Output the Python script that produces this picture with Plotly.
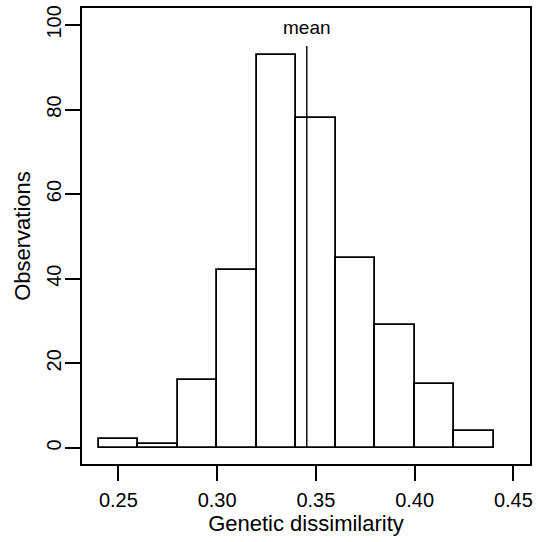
import plotly.graph_objects as go

# Histogram data
bin_edges = [0.24, 0.26, 0.28, 0.30, 0.32, 0.34, 0.36, 0.38, 0.40, 0.42, 0.44]
counts = [2, 1, 16, 42, 93, 78, 45, 29, 15, 4]
mean_value = 0.3454
mean_line_top = 95
mean_label_y = 99.5
mean_label = "mean"

x_tick_vals = [0.25, 0.30, 0.35, 0.40, 0.45]
x_tick_text = ["0.25", "0.30", "0.35", "0.40", "0.45"]
y_tick_vals = [0, 20, 40, 60, 80, 100]
y_tick_text = ["0", "20", "40", "60", "80", "100"]

x_title = "Genetic dissimilarity"
y_title = "Observations"

centers = [(a + b) / 2 for a, b in zip(bin_edges[:-1], bin_edges[1:])]
widths = [b - a for a, b in zip(bin_edges[:-1], bin_edges[1:])]

FONT = "Liberation Sans, Arial, Helvetica, sans-serif"

fig = go.Figure()
fig.add_trace(go.Bar(
    x=centers, y=counts, width=widths,
    marker=dict(color="white", line=dict(color="black", width=1.8)),
    showlegend=False, hoverinfo="x+y",
))
fig.add_trace(go.Scatter(
    x=[mean_value, mean_value], y=[0, mean_line_top],
    mode="lines", line=dict(color="black", width=1.4),
    showlegend=False, hoverinfo="skip",
))
fig.add_annotation(
    x=mean_value, y=mean_label_y, xref="x", yref="y",
    text=mean_label, showarrow=False,
    font=dict(family=FONT, size=19, color="black"),
    xanchor="center", yanchor="middle",
)

fig.update_layout(
    width=538, height=542,
    margin=dict(l=82, r=5, t=7, b=78),
    paper_bgcolor="white", plot_bgcolor="white",
    font=dict(family=FONT, color="black"),
    bargap=0,
    xaxis=dict(
        range=[0.2316, 0.4584],
        tickmode="array", tickvals=x_tick_vals, ticktext=x_tick_text,
        ticks="outside", ticklen=15, tickwidth=2, tickcolor="black",
        ticklabelstandoff=2,
        tickfont=dict(family=FONT, size=20, color="black"),
        showline=True, linecolor="black", linewidth=2, mirror=True,
        showgrid=False, zeroline=False,
        title=dict(text=x_title, font=dict(family=FONT, size=22, color="black"), standoff=4),
    ),
    yaxis=dict(
        range=[-3.8, 104],
        tickmode="array", tickvals=y_tick_vals, ticktext=y_tick_text,
        ticks="outside", ticklen=15, tickwidth=2, tickcolor="black",
        tickangle=-90, ticklabelstandoff=-4,
        tickfont=dict(family=FONT, size=20, color="black"),
        showline=True, linecolor="black", linewidth=2, mirror=True,
        showgrid=False, zeroline=False,
        title=dict(text=y_title, font=dict(family=FONT, size=22, color="black"), standoff=6),
    ),
)

fig.write_html("out.html", config={"displayModeBar": False})

# remove the default page margin so the figure sits at the window's corner
with open("out.html", "r", encoding="utf-8") as f:
    html = f.read()
html = html.replace("<head>", "<head><style>html,body{margin:0;padding:0;overflow:hidden;}</style>", 1)
with open("out.html", "w", encoding="utf-8") as f:
    f.write(html)
